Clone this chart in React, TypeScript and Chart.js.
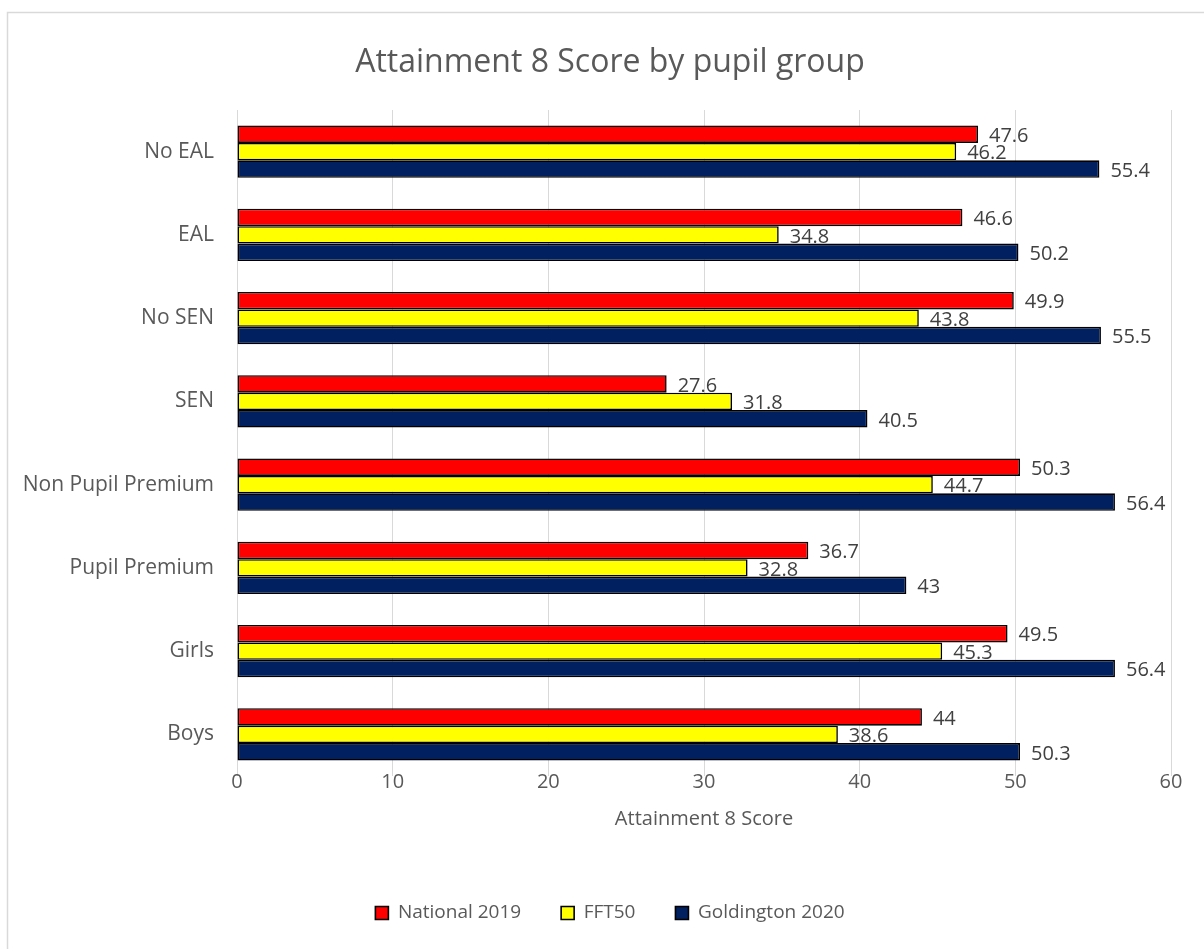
import React, { useEffect, useRef } from "react";
import { Chart, registerables } from "chart.js";

Chart.register(...registerables);

const categories = ["No EAL", "EAL", "No SEN", "SEN", "Non Pupil Premium", "Pupil Premium", "Girls", "Boys"];
const national2019 = [47.6, 46.6, 49.9, 27.6, 50.3, 36.7, 49.5, 44];
const fft50 = [46.2, 34.8, 43.8, 31.8, 44.7, 32.8, 45.3, 38.6];
const goldington2020 = [55.4, 50.2, 55.5, 40.5, 56.4, 43, 56.4, 50.3];
const seriesNames = ["National 2019", "FFT50", "Goldington 2020"];
const seriesColors = ["#FF0000", "#FFFF00", "#002060"];
const xTickMax = 60;
const xTickStep = 10;

const FONT = "'Open Sans', 'Noto Sans', sans-serif";

const frameAndLabels = {
  id: "frameAndLabels",
  beforeDraw(chart: any) {
    const ctx = chart.ctx;
    ctx.save();
    ctx.fillStyle = "#ffffff";
    ctx.fillRect(0, 0, chart.width, chart.height);
    ctx.strokeStyle = "#d9d9d9";
    ctx.lineWidth = 1.5;
    ctx.beginPath();
    ctx.moveTo(7.5, chart.height);
    ctx.lineTo(7.5, 12.5);
    ctx.lineTo(chart.width, 12.5);
    ctx.stroke();
    ctx.restore();
  },
  afterDatasetsDraw(chart: any) {
    const ctx = chart.ctx;
    ctx.save();
    ctx.font = `20px ${FONT}`;
    ctx.fillStyle = "#404040";
    ctx.textAlign = "left";
    ctx.textBaseline = "middle";
    chart.data.datasets.forEach((ds: any, i: number) => {
      const meta = chart.getDatasetMeta(i);
      meta.data.forEach((el: any, j: number) => {
        ctx.fillText(String(ds.data[j]), el.x + 11, el.y + 2);
      });
    });
    // x-axis tick labels (drawn unclipped, tight to the plot area as in the original)
    const xs = chart.scales.x;
    ctx.fillStyle = "#595959";
    ctx.textAlign = "center";
    xs.ticks.forEach((t: any) => {
      ctx.fillText(String(t.value), xs.getPixelForValue(t.value), chart.chartArea.bottom + 6);
    });
    ctx.restore();
  },
};

export default function App() {
  const ref = useRef<HTMLCanvasElement>(null);
  useEffect(() => {
    if (!ref.current) return;
    const data = [national2019, fft50, goldington2020];
    const chart = new Chart(ref.current, {
      type: "bar",
      data: {
        labels: categories,
        datasets: seriesNames.map((name, i) => ({
          label: name,
          data: data[i],
          backgroundColor: seriesColors[i],
          borderColor: "#000000",
          borderWidth: 1.6,
          borderSkipped: false,
          categoryPercentage: 0.63,
          barPercentage: 1,
        })),
      },
      options: {
        indexAxis: "y",
        responsive: false,
        animation: false,
        devicePixelRatio: 1,
        layout: { padding: { left: 16, right: 0, top: 0, bottom: 16.5 } },
        plugins: {
          title: {
            display: true,
            text: "Attainment 8 Score by pupil group",
            color: "#595959",
            font: { family: FONT, size: 32, weight: "normal" },
            padding: { top: 44, bottom: 27.6 },
          },
          legend: {
            position: "bottom",
            labels: {
              color: "#595959",
              font: { family: FONT, size: 19 },
              boxWidth: 13,
              boxHeight: 13,
              padding: 40,
            },
          },
          tooltip: { enabled: false },
        },
        scales: {
          x: {
            min: 0,
            max: xTickMax,
            ticks: { stepSize: xTickStep, display: false },
            grid: { color: "#d9d9d9", lineWidth: 1, drawTicks: false },
            border: { display: false },
            title: {
              display: true,
              text: "Attainment 8 Score",
              color: "#595959",
              font: { family: FONT, size: 20 },
              padding: { top: 0, bottom: 32.5 },
            },
            afterFit: (scale: any) => {
              scale.height = 87.5;
            },
          },
          y: {
            ticks: { color: "#595959", font: { family: FONT, size: 21 }, padding: 23 },
            grid: { display: false, drawTicks: false },
            border: { display: false },
            afterFit: (scale: any) => {
              scale.width = 221;
            },
          },
          yRight: {
            type: "category",
            position: "right",
            labels: categories,
            ticks: { display: false },
            grid: { display: false, drawTicks: false },
            border: { display: false },
            afterFit: (scale: any) => {
              scale.width = 33;
            },
          },
        },
      },
      plugins: [frameAndLabels],
    });
    return () => chart.destroy();
  }, []);
  return (
    <div style={{ position: "absolute", left: 0, top: 0, width: 1204, height: 949, overflow: "hidden" }}>
      <canvas ref={ref} width={1204} height={949} style={{ display: "block", width: 1204, height: 949 }} />
    </div>
  );
}
